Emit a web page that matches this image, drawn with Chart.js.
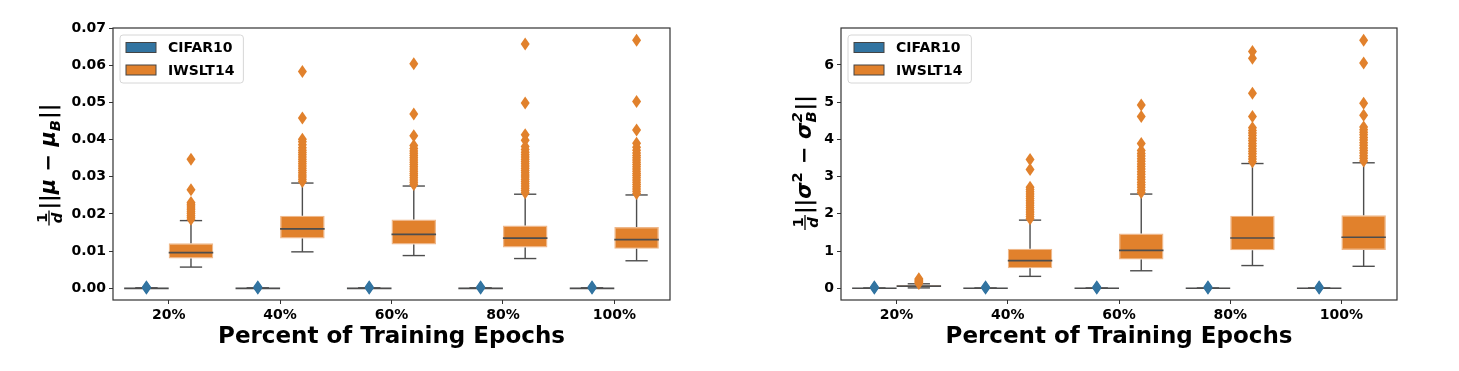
<!DOCTYPE html>
<html>
<head>
<meta charset="utf-8">
<script src="https://cdn.jsdelivr.net/npm/chart.js@4.4.1/dist/chart.umd.min.js"></script>
<style>
  html, body { margin: 0; padding: 0; background: #fff; }
  #wrap { position: relative; width: 1459px; height: 371px; }
  canvas { position: absolute; top: 0; }
  #meanChart { left: 0; }
  #varChart { left: 730px; }
</style>
</head>
<body>
<div id="wrap">
  <canvas id="meanChart" width="730" height="371"></canvas>
  <canvas id="varChart" width="729" height="371"></canvas>
</div>
<script>
const categories = ['20%', '40%', '60%', '80%', '100%'];
const seriesNames = ['CIFAR10', 'IWSLT14'];

// each box: [whisker low, Q1, median, Q3, whisker high]
const meanCifarStats = [
    [0, 0, 0, 0.00005, 0.0001],
    [0, 0, 0, 0.00005, 0.0001],
    [0, 0, 0, 0.00005, 0.0001],
    [0, 0, 0, 0.00005, 0.0001],
    [0, 0, 0, 0.00005, 0.0001]
];
const meanCifarOutliers = [
    [0, 0.0002, 0.0004],
    [0, 0.0002, 0.0004],
    [0, 0.0002, 0.0004],
    [0, 0.0002, 0.0004],
    [0, 0.0002, 0.0004]
];
const meanIwsltStats = [
    [0.0057, 0.0080, 0.0096, 0.0121, 0.0182],
    [0.0098, 0.0134, 0.0160, 0.0195, 0.0283],
    [0.0088, 0.0118, 0.0145, 0.0185, 0.0275],
    [0.0080, 0.0110, 0.0135, 0.0169, 0.0253],
    [0.0074, 0.0106, 0.0131, 0.0165, 0.0251]
];
const meanIwsltOutliers = [
    [0.0186, 0.0191, 0.0196, 0.0201, 0.0206, 0.0211, 0.0216, 0.0221, 0.0226, 0.0231, 0.0265, 0.0347],
    [0.0287, 0.0293, 0.0299, 0.0305, 0.0311, 0.0317, 0.0323, 0.0329, 0.0335, 0.0341, 0.0347, 0.0353, 0.0359, 0.0365, 0.0371, 0.0378, 0.0386, 0.0394, 0.0401, 0.0458, 0.0583],
    [0.0279, 0.0285, 0.0291, 0.0297, 0.0303, 0.0309, 0.0315, 0.0321, 0.0327, 0.0333, 0.0339, 0.0345, 0.0351, 0.0357, 0.0363, 0.0369, 0.0376, 0.0384, 0.0410, 0.0469, 0.0604],
    [0.0257, 0.0263, 0.0269, 0.0275, 0.0281, 0.0287, 0.0293, 0.0299, 0.0305, 0.0311, 0.0317, 0.0323, 0.0329, 0.0335, 0.0341, 0.0347, 0.0353, 0.0359, 0.0366, 0.0373, 0.0381, 0.0398, 0.0413, 0.0498, 0.0657],
    [0.0255, 0.0261, 0.0267, 0.0273, 0.0279, 0.0285, 0.0291, 0.0297, 0.0303, 0.0309, 0.0315, 0.0321, 0.0327, 0.0333, 0.0339, 0.0345, 0.0351, 0.0357, 0.0364, 0.0371, 0.0379, 0.0390, 0.0426, 0.0502, 0.0667]
];

const varCifarStats = [
    [0, 0, 0, 0.002, 0.004],
    [0, 0, 0, 0.002, 0.004],
    [0, 0, 0, 0.002, 0.004],
    [0, 0, 0, 0.002, 0.004],
    [0, 0, 0, 0.002, 0.004]
];
const varCifarOutliers = [
    [0, 0.02, 0.04],
    [0, 0.02, 0.04],
    [0, 0.02, 0.04],
    [0, 0.02, 0.04],
    [0, 0.02, 0.04]
];
const varIwsltStats = [
    [0.01, 0.04, 0.06, 0.08, 0.12],
    [0.32, 0.54, 0.74, 1.06, 1.83],
    [0.47, 0.77, 1.02, 1.47, 2.53],
    [0.61, 1.02, 1.35, 1.95, 3.35],
    [0.59, 1.03, 1.37, 1.96, 3.37]
];
const varIwsltOutliers = [
    [0.13, 0.155, 0.18, 0.205, 0.23, 0.255],
    [1.87, 1.93, 1.99, 2.05, 2.11, 2.17, 2.23, 2.29, 2.35, 2.41, 2.47, 2.53, 2.59, 2.65, 2.71, 3.19, 3.46],
    [2.57, 2.64, 2.71, 2.78, 2.85, 2.92, 2.99, 3.06, 3.13, 3.20, 3.27, 3.34, 3.41, 3.48, 3.55, 3.62, 3.70, 3.89, 4.61, 4.92],
    [3.40, 3.47, 3.54, 3.61, 3.68, 3.75, 3.82, 3.89, 3.96, 4.03, 4.10, 4.17, 4.24, 4.31, 4.61, 5.24, 6.18, 6.36],
    [3.42, 3.49, 3.56, 3.63, 3.70, 3.77, 3.84, 3.91, 3.98, 4.05, 4.12, 4.19, 4.26, 4.33, 4.65, 4.97, 6.05, 6.66]
];

const meanTicks = [0, 0.01, 0.02, 0.03, 0.04, 0.05, 0.06, 0.07];
const varTicks = [0, 1, 2, 3, 4, 5, 6];

const FONT = '"DejaVu Sans", sans-serif';
const BLUE = '#3274a1';
const ORANGE = '#e1812c';
const LINE = '#4d4d4d';

function drawDiamond(ctx, x, y, w, h) {
    ctx.beginPath();
    ctx.moveTo(x, y - h / 2);
    ctx.lineTo(x + w / 2, y);
    ctx.lineTo(x, y + h / 2);
    ctx.lineTo(x - w / 2, y);
    ctx.closePath();
    ctx.fill();
}

function hline(ctx, x1, x2, y) {
    ctx.beginPath();
    ctx.moveTo(x1, y);
    ctx.lineTo(x2, y);
    ctx.stroke();
}

// y axis label written as small math: fraction, text runs, sub/superscripts
function drawMathLabel(ctx, cx, cy, size, parts) {
    const fontOf = (it, s) => (it ? 'italic ' : '') + 'bold ' + s + 'px ' + FONT;
    const small = size * 0.7;
    ctx.save();
    const widths = parts.map(p => {
        if (p.frac) {
            ctx.font = fontOf(false, small);
            const a = ctx.measureText(p.frac[0]).width;
            ctx.font = fontOf(true, small);
            const b = ctx.measureText(p.frac[1]).width;
            return Math.max(a, b) + size * 0.3;
        }
        if (p.sup !== undefined) {
            ctx.font = fontOf(p.it, small);
            return Math.max(ctx.measureText(p.sup).width, ctx.measureText(p.sub).width) + 1;
        }
        ctx.font = fontOf(p.it, size * (p.scale || 1));
        return ctx.measureText(p.t).width;
    });
    const total = widths.reduce((a, b) => a + b, 0);
    ctx.translate(cx, cy);
    ctx.rotate(-Math.PI / 2);
    ctx.fillStyle = '#000';
    ctx.strokeStyle = '#000';
    ctx.textBaseline = 'alphabetic';
    ctx.textAlign = 'left';
    const base = size * 0.3;
    let x = -total / 2;
    parts.forEach((p, k) => {
        const w = widths[k];
        if (p.frac) {
            const axisY = base - size * 0.3;
            ctx.lineWidth = 1.3;
            ctx.beginPath();
            ctx.moveTo(x + 1, axisY);
            ctx.lineTo(x + w - 1, axisY);
            ctx.stroke();
            ctx.textAlign = 'center';
            ctx.font = fontOf(false, small);
            ctx.fillText(p.frac[0], x + w / 2, axisY - 2);
            ctx.font = fontOf(true, small);
            ctx.fillText(p.frac[1], x + w / 2, axisY + 2 + small * 0.74);
            ctx.textAlign = 'left';
        } else if (p.sup !== undefined) {
            ctx.font = fontOf(p.it, small);
            if (p.sup) ctx.fillText(p.sup, x, base - size * 0.45);
            if (p.sub) ctx.fillText(p.sub, x, base + size * 0.22);
        } else {
            ctx.font = fontOf(p.it, size * (p.scale || 1));
            ctx.fillText(p.t, x, base + (p.dy || 0) * size);
        }
        x += w;
    });
    ctx.restore();
}

const boxPlugin = {
    id: 'boxExtras',
    afterDatasetsDraw(chart) {
        const ctx = chart.ctx;
        const yScale = chart.scales.y;
        const py = v => yScale.getPixelForValue(v);
        chart.data.datasets.forEach((ds, di) => {
            const meta = chart.getDatasetMeta(di);
            meta.data.forEach((bar, i) => {
                const s = ds.stats[i];
                const cx = bar.x;
                const w = bar.width;
                ctx.save();
                ctx.strokeStyle = LINE;
                ctx.lineWidth = 1.4;
                // whiskers
                ctx.beginPath();
                ctx.moveTo(cx, py(s[0]));
                ctx.lineTo(cx, py(s[1]));
                ctx.moveTo(cx, py(s[3]));
                ctx.lineTo(cx, py(s[4]));
                ctx.stroke();
                // caps
                hline(ctx, cx - w / 4, cx + w / 4, py(s[0]));
                hline(ctx, cx - w / 4, cx + w / 4, py(s[4]));
                // median
                ctx.lineWidth = 1.7;
                hline(ctx, cx - w / 2, cx + w / 2, py(s[2]));
                // outliers
                ctx.fillStyle = ds.backgroundColor;
                ds.outliers[i].forEach(v => drawDiamond(ctx, cx, py(v), 9, 13));
                ctx.restore();
            });
        });
    },
    afterDraw(chart, args, opts) {
        const ctx = chart.ctx;
        const a = chart.chartArea;
        ctx.save();
        // frame on all four sides
        ctx.strokeStyle = '#333';
        ctx.lineWidth = 1.2;
        ctx.strokeRect(a.left, a.top, a.right - a.left, a.bottom - a.top);

        // legend in the upper left corner
        ctx.font = 'bold 14px ' + FONT;
        const textW = Math.max(...chart.data.datasets.map(d => ctx.measureText(d.label).width));
        const lx = a.left + 7, ly = a.top + 7;
        const lw = 48 + textW + 9, lh = 48;
        ctx.fillStyle = 'rgba(255,255,255,0.85)';
        ctx.strokeStyle = '#d6d6d6';
        ctx.lineWidth = 1;
        ctx.beginPath();
        ctx.roundRect(lx, ly, lw, lh, 3);
        ctx.fill();
        ctx.stroke();
        chart.data.datasets.forEach((d, k) => {
            const rowY = ly + 12.5 + k * 22.5;
            ctx.fillStyle = d.backgroundColor;
            ctx.fillRect(lx + 6, rowY - 5, 30, 10);
            ctx.strokeStyle = '#444';
            ctx.strokeRect(lx + 6, rowY - 5, 30, 10);
            ctx.fillStyle = '#000';
            ctx.textBaseline = 'middle';
            ctx.fillText(d.label, lx + 48, rowY + 1);
        });
        ctx.restore();

        drawMathLabel(ctx, opts.x, opts.y, opts.size, opts.parts);
    }
};

function makeBoxChart(canvasId, cifarStats, cifarOut, iwsltStats, iwsltOut, yMin, yMax, yTicks, fmt, yWidth, padRight, label) {
    const canvas = document.getElementById(canvasId);
    return new Chart(canvas, {
        type: 'bar',
        data: {
            labels: categories,
            datasets: [
                {
                    label: seriesNames[0],
                    data: cifarStats.map(s => [s[1], s[3]]),
                    stats: cifarStats,
                    outliers: cifarOut,
                    backgroundColor: BLUE,
                    borderColor: '#6d93b3',
                    borderWidth: 1.2,
                    borderSkipped: false
                },
                {
                    label: seriesNames[1],
                    data: iwsltStats.map(s => [s[1], s[3]]),
                    stats: iwsltStats,
                    outliers: iwsltOut,
                    backgroundColor: ORANGE,
                    borderColor: '#efb88a',
                    borderWidth: 1.2,
                    borderSkipped: false
                }
            ]
        },
        options: {
            responsive: false,
            animation: false,
            events: [],
            layout: { padding: { left: 0, right: padRight, top: 28, bottom: 0 } },
            datasets: { bar: { barPercentage: 1.0, categoryPercentage: 0.8 } },
            plugins: {
                legend: { display: false },
                tooltip: { enabled: false },
                boxExtras: label
            },
            scales: {
                x: {
                    grid: { display: true, offset: false, drawOnChartArea: false, drawTicks: true, tickLength: 4, color: '#333' },
                    border: { display: false },
                    ticks: { color: '#000', padding: 3, font: { family: FONT, weight: 'bold', size: 14 } },
                    title: {
                        display: true,
                        text: 'Percent of Training Epochs',
                        color: '#000',
                        font: { family: FONT, weight: 'bold', size: 23, lineHeight: 1.2 },
                        padding: { top: 0, bottom: 20 }
                    },
                    afterFit: function(scale) { scale.height = 71; }
                },
                y: {
                    min: yMin,
                    max: yMax,
                    grid: { display: true, drawOnChartArea: false, drawTicks: true, tickLength: 4, color: '#333' },
                    border: { display: false },
                    ticks: {
                        color: '#000',
                        padding: 3,
                        font: { family: FONT, weight: 'bold', size: 14 },
                        callback: fmt
                    },
                    afterBuildTicks: function(scale) {
                        scale.ticks = yTicks.map(v => ({ value: v }));
                    },
                    afterFit: function(scale) { scale.width = yWidth; }
                }
            }
        },
        plugins: [boxPlugin]
    });
}

document.addEventListener('DOMContentLoaded', function() {
    makeBoxChart('meanChart', meanCifarStats, meanCifarOutliers, meanIwsltStats, meanIwsltOutliers,
        -0.00315, 0.07, meanTicks, v => v.toFixed(2), 113, 60,
        {
            x: 49, y: 165, size: 21,
            parts: [
                { frac: ['1', 'd'] },
                { t: '||' },
                { t: 'μ', it: true },
                { t: ' − ' },
                { t: 'μ', it: true },
                { sup: '', sub: 'B', it: true },
                { t: '||' }
            ]
        });

    makeBoxChart('varChart', varCifarStats, varCifarOutliers, varIwsltStats, varIwsltOutliers,
        -0.315, 6.99, varTicks, v => String(v), 111, 62,
        {
            x: 75, y: 163, size: 21,
            parts: [
                { frac: ['1', 'd'] },
                { t: '||' },
                { t: 'σ', it: true },
                { sup: '2', sub: '' },
                { t: ' − ' },
                { t: 'σ', it: true },
                { sup: '2', sub: 'B', it: true },
                { t: '||' }
            ]
        });
});
</script>
</body>
</html>
